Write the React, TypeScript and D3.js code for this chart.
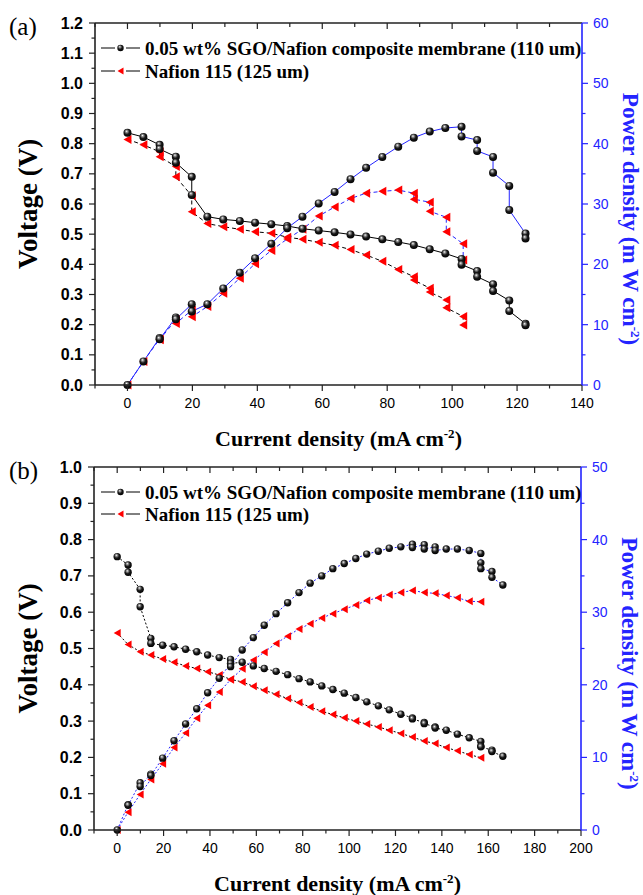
import React from 'react';
import * as d3 from 'd3';

// panel (a) - 0.05 wt% SGO/Nafion composite
const aSgoCurrent = [0, 4.9, 9.9, 9.9, 14.9, 14.9, 19.8, 19.8, 24.6, 29.5, 34.6, 39.3, 44.3, 49.2, 53.9, 58.9, 63.8, 68.7, 73.5, 78.5, 83.4, 88.2, 93.1, 97.9, 102.9, 102.9, 107.7, 107.7, 112.6, 112.6, 117.6, 117.6, 122.6, 122.6];
const aSgoVoltage = [0.836, 0.822, 0.796, 0.782, 0.757, 0.737, 0.69, 0.63, 0.558, 0.549, 0.544, 0.538, 0.533, 0.527, 0.518, 0.512, 0.506, 0.499, 0.492, 0.483, 0.474, 0.464, 0.45, 0.436, 0.418, 0.399, 0.378, 0.359, 0.334, 0.312, 0.28, 0.245, 0.203, 0.198];
const aSgoPower = [0, 3.9, 7.8, 7.6, 11.2, 10.9, 13.4, 12.2, 13.4, 16.0, 18.6, 21.0, 23.4, 26.0, 27.9, 30.1, 32.0, 34.1, 36.0, 37.8, 39.5, 41.0, 42.0, 42.6, 42.8, 41.2, 40.6, 38.8, 37.8, 35.2, 33.0, 29.0, 25.1, 24.3];

// panel (a) - Nafion 115
const aNafCurrent = [0, 4.9, 9.9, 9.9, 14.9, 14.9, 19.8, 19.8, 24.6, 29.5, 34.6, 39.3, 44.3, 49.2, 53.9, 58.9, 63.8, 68.7, 73.5, 78.5, 83.4, 88.2, 88.2, 93.1, 93.1, 98.2, 98.2, 103.4, 103.4];
const aNafVoltage = [0.814, 0.796, 0.773, 0.757, 0.724, 0.69, 0.627, 0.574, 0.535, 0.525, 0.516, 0.508, 0.503, 0.49, 0.483, 0.473, 0.463, 0.449, 0.431, 0.41, 0.383, 0.359, 0.348, 0.321, 0.308, 0.282, 0.256, 0.227, 0.199];
const aNafPower = [0, 3.9, 7.6, 7.5, 10.8, 10.2, 12.4, 11.3, 13.0, 15.2, 17.7, 20.1, 22.3, 24.2, 25.8, 28.0, 29.5, 30.9, 31.8, 32.1, 32.3, 31.8, 30.8, 30.3, 28.8, 27.8, 25.4, 23.4, 20.7];

// panel (b) - 0.05 wt% SGO/Nafion composite
const bSgoCurrent = [0, 4.7, 4.7, 9.9, 9.9, 14.5, 14.5, 19.6, 24.5, 29.5, 34.3, 39, 44, 48.9, 48.9, 53.9, 58.7, 63.4, 68.5, 73.5, 78.4, 83.2, 88.2, 93, 97.9, 102.9, 107.6, 112.6, 117.3, 122.3, 127.3, 127.3, 132.4, 132.4, 137.1, 137.1, 141.9, 146.7, 151.8, 156.8, 156.8, 156.8, 161.6, 161.6, 166.3];
const bSgoVoltage = [0.753, 0.73, 0.71, 0.663, 0.615, 0.528, 0.514, 0.509, 0.505, 0.498, 0.491, 0.482, 0.475, 0.47, 0.459, 0.462, 0.452, 0.445, 0.437, 0.428, 0.417, 0.408, 0.397, 0.387, 0.377, 0.365, 0.353, 0.342, 0.331, 0.319, 0.309, 0.306, 0.296, 0.293, 0.284, 0.281, 0.275, 0.264, 0.254, 0.244, 0.231, 0.229, 0.22, 0.216, 0.203];
const bSgoPower = [0, 3.5, 3.4, 6.5, 6.0, 7.7, 7.5, 9.9, 12.3, 14.6, 16.7, 18.9, 20.9, 22.9, 22.5, 24.8, 26.5, 28.2, 29.8, 31.3, 32.7, 34.0, 35.0, 36.0, 36.7, 37.4, 38.0, 38.4, 38.8, 39.0, 39.35, 38.9, 39.3, 38.7, 39.0, 38.5, 38.7, 38.7, 38.5, 38.1, 36.8, 36.0, 35.6, 34.8, 33.75];

// panel (b) - Nafion 115
const bNafCurrent = [0, 4.7, 9.9, 14.5, 19.6, 24.5, 29.5, 34.3, 39, 44, 48.9, 53.9, 58.7, 63.4, 68.5, 73.5, 78.4, 83.2, 88.2, 93, 97.9, 102.9, 107.6, 112.6, 117.3, 122.3, 127.3, 132.4, 137.1, 141.9, 146.7, 151.8, 156.8];
const bNafVoltage = [0.543, 0.511, 0.491, 0.482, 0.471, 0.462, 0.452, 0.445, 0.436, 0.427, 0.415, 0.408, 0.396, 0.385, 0.374, 0.362, 0.351, 0.339, 0.327, 0.318, 0.309, 0.3, 0.292, 0.284, 0.275, 0.266, 0.256, 0.245, 0.238, 0.227, 0.218, 0.208, 0.199];
const bNafPower = [0, 2.46, 4.9, 6.97, 9.14, 11.35, 13.36, 15.4, 17.2, 19.0, 20.7, 22.2, 23.4, 24.5, 25.7, 26.7, 27.7, 28.4, 29.2, 29.8, 30.4, 31.0, 31.6, 32.0, 32.4, 32.7, 33.0, 32.7, 32.6, 32.3, 32.0, 31.5, 31.45];

// tick labels
const aXTicks = [0, 20, 40, 60, 80, 100, 120, 140];
const aVTicks = [0, 0.1, 0.2, 0.3, 0.4, 0.5, 0.6, 0.7, 0.8, 0.9, 1.0, 1.1, 1.2];
const aPTicks = [0, 10, 20, 30, 40, 50, 60];
const bXTicks = [0, 20, 40, 60, 80, 100, 120, 140, 160, 180, 200];
const bVTicks = [0, 0.1, 0.2, 0.3, 0.4, 0.5, 0.6, 0.7, 0.8, 0.9, 1.0];
const bPTicks = [0, 10, 20, 30, 40, 50];

const legendLabels = ['0.05 wt% SGO/Nafion composite membrane (110 um)', 'Nafion 115 (125 um)'];

const BLUE = '#2424ff';
const RED = '#ff0000';
const SERIF = '"Liberation Serif", "Times New Roman", serif';
const SANS = '"Liberation Sans", Arial, sans-serif';

const tri = (x, y, w, h) => `M${x - w / 2},${y}L${x + w / 2},${y - h / 2}L${x + w / 2},${y + h / 2}Z`;

function Panel(props) {
	const { left, right, top, bottom, xDomain, vMax, pMax, xTicks, vTicks, pTicks, sgo, naf, label, legendY, dotted, r, tw } = props;

	const x = d3.scaleLinear().domain(xDomain).range([left, right]);
	const yV = d3.scaleLinear().domain([0, vMax]).range([bottom, top]);
	const yP = d3.scaleLinear().domain([0, pMax]).range([bottom, top]);

	const mkLine = (cur, ys, sc) => d3.line().x((d, i) => x(cur[i])).y((d) => sc(d))(ys);

	const xAll = d3.range(xDomain[0], xDomain[1] + 0.01, 10);
	const vAll = d3.range(0, vMax + 0.001, 0.05);
	const pAll = d3.range(0, pMax + 0.01, 5);
	const fmtV = d3.format('.1f');

	const dashSgo = dotted ? '2,2' : null;
	const dashNaf = dotted ? '2,2' : '4,3';
	const midY = (top + bottom) / 2;

	return (
		<g>
			<text x={9} y={top + 12} fontFamily={SERIF} fontSize={25}>{label}</text>

			{/* data lines */}
			<path d={mkLine(naf.current, naf.voltage, yV)} fill="none" stroke="#000" strokeWidth={1} strokeDasharray={dashNaf} />
			<path d={mkLine(sgo.current, sgo.voltage, yV)} fill="none" stroke="#000" strokeWidth={1} strokeDasharray={dashSgo} />
			<path d={mkLine(naf.current, naf.power, yP)} fill="none" stroke={BLUE} strokeWidth={1} strokeDasharray={dashNaf} />
			<path d={mkLine(sgo.current, sgo.power, yP)} fill="none" stroke={BLUE} strokeWidth={1} strokeDasharray={dashSgo} />

			{/* nafion markers */}
			{naf.current.map((c, i) => (
				<g key={'n' + i}>
					<path d={tri(x(c), yV(naf.voltage[i]), tw, tw + 1)} fill={RED} />
					<path d={tri(x(c), yP(naf.power[i]), tw, tw + 1)} fill={RED} />
				</g>
			))}
			{/* sgo markers */}
			{sgo.current.map((c, i) => (
				<g key={'s' + i}>
					<circle cx={x(c)} cy={yV(sgo.voltage[i])} r={r} fill="url(#ball)" />
					<circle cx={x(c)} cy={yP(sgo.power[i])} r={r} fill="url(#ball)" />
				</g>
			))}

			{/* frame */}
			<line x1={left} x2={right} y1={top} y2={top} stroke="#222" strokeWidth={1.6} />
			<line x1={left} x2={right} y1={bottom} y2={bottom} stroke="#222" strokeWidth={1.6} />
			<line x1={left} x2={left} y1={top} y2={bottom} stroke="#222" strokeWidth={1.6} />
			<line x1={right} x2={right} y1={top} y2={bottom} stroke={BLUE} strokeWidth={1.6} />

			{/* x ticks */}
			{xAll.map((t) => {
				const major = xTicks.indexOf(t) >= 0;
				return (
					<g key={'x' + t}>
						<line x1={x(t)} x2={x(t)} y1={bottom} y2={bottom + (major ? 6 : 3.5)} stroke="#222" strokeWidth={1.2} />
						{t < xDomain[1] ? <line x1={x(t)} x2={x(t)} y1={top} y2={top + (major ? 6 : 4)} stroke="#222" strokeWidth={1.2} /> : null}
					</g>
				);
			})}
			{xTicks.map((t) => (
				<text key={'xl' + t} x={x(t)} y={bottom + 23} textAnchor="middle" fontFamily={SANS} fontSize={14}>{t}</text>
			))}

			{/* left ticks */}
			{vAll.map((t, i) => (
				<line key={'v' + i} x1={left} x2={left - (i % 2 === 0 ? 6 : 3.5)} y1={yV(t)} y2={yV(t)} stroke="#222" strokeWidth={1.2} />
			))}
			{vTicks.map((t) => (
				<text key={'vl' + t} x={left - 12} y={yV(t) + 5.5} textAnchor="end" fontFamily={SANS} fontWeight="bold" fontSize={16}>{fmtV(t)}</text>
			))}

			{/* right ticks */}
			{pAll.map((t, i) => (
				<line key={'p' + i} x1={right} x2={right + (i % 2 === 0 ? 6 : 3.5)} y1={yP(t)} y2={yP(t)} stroke={BLUE} strokeWidth={1.2} />
			))}
			{pTicks.map((t) => (
				<text key={'pl' + t} x={right + 11} y={yP(t) + 5} fontFamily={SANS} fontSize={14} fill={BLUE}>{t}</text>
			))}

			{/* axis titles */}
			<text transform={`translate(37,${midY}) rotate(-90)`} textAnchor="middle" fontFamily={SERIF} fontWeight="bold" fontSize={27}>Voltage (V)</text>
			<text transform={`translate(${right + 41},${midY + 15}) rotate(90)`} textAnchor="middle" fontFamily={SERIF} fontWeight="bold" fontSize={23} fill={BLUE}>
				Power density (m W cm<tspan dy={-8} fontSize={13}>-2</tspan><tspan dy={8}>)</tspan>
			</text>
			<text x={(left + right) / 2} y={bottom + 61} textAnchor="middle" fontFamily={SERIF} fontWeight="bold" fontSize={22}>
				Current density (mA cm<tspan dy={-8} fontSize={13}>-2</tspan><tspan dy={8}>)</tspan>
			</text>

			{/* legend */}
			<line x1={101} x2={115} y1={legendY[0]} y2={legendY[0]} stroke="#000" />
			<line x1={126} x2={140} y1={legendY[0]} y2={legendY[0]} stroke="#000" />
			<circle cx={120.5} cy={legendY[0]} r={3.2} fill="url(#ball)" />
			<text x={145} y={legendY[0] + 6.5} fontFamily={SERIF} fontWeight="bold" fontSize={19}>{legendLabels[0]}</text>
			<line x1={101} x2={115} y1={legendY[1]} y2={legendY[1]} stroke="#000" />
			<line x1={126} x2={140} y1={legendY[1]} y2={legendY[1]} stroke="#000" />
			<path d={tri(120.5, legendY[1], 6, 7)} fill={RED} />
			<text x={145} y={legendY[1] + 6.5} fontFamily={SERIF} fontWeight="bold" fontSize={19}>{legendLabels[1]}</text>
		</g>
	);
}

export default function App() {
	return (
		<svg width={643} height={895} style={{ position: 'absolute', left: 0, top: 0, background: '#fff' }}>
			<defs>
				<radialGradient id="ball" cx="45%" cy="40%" r="60%" fx="38%" fy="30%">
					<stop offset="0%" stopColor="#ffffff" />
					<stop offset="20%" stopColor="#9a9a9a" />
					<stop offset="55%" stopColor="#1a1a1a" />
					<stop offset="100%" stopColor="#000" />
				</radialGradient>
			</defs>
			<Panel
				left={95} right={582} top={23} bottom={385}
				xDomain={[-10, 140]} vMax={1.2} pMax={60}
				xTicks={aXTicks} vTicks={aVTicks} pTicks={aPTicks}
				sgo={{ current: aSgoCurrent, voltage: aSgoVoltage, power: aSgoPower }}
				naf={{ current: aNafCurrent, voltage: aNafVoltage, power: aNafPower }}
				label="(a)" legendY={[48, 71]} dotted={false} r={4} tw={8}
			/>
			<Panel
				left={94} right={581} top={467} bottom={830}
				xDomain={[-10, 200]} vMax={1.0} pMax={50}
				xTicks={bXTicks} vTicks={bVTicks} pTicks={bPTicks}
				sgo={{ current: bSgoCurrent, voltage: bSgoVoltage, power: bSgoPower }}
				naf={{ current: bNafCurrent, voltage: bNafVoltage, power: bNafPower }}
				label="(b)" legendY={[492, 514]} dotted={true} r={3.7} tw={7}
			/>
		</svg>
	);
}
